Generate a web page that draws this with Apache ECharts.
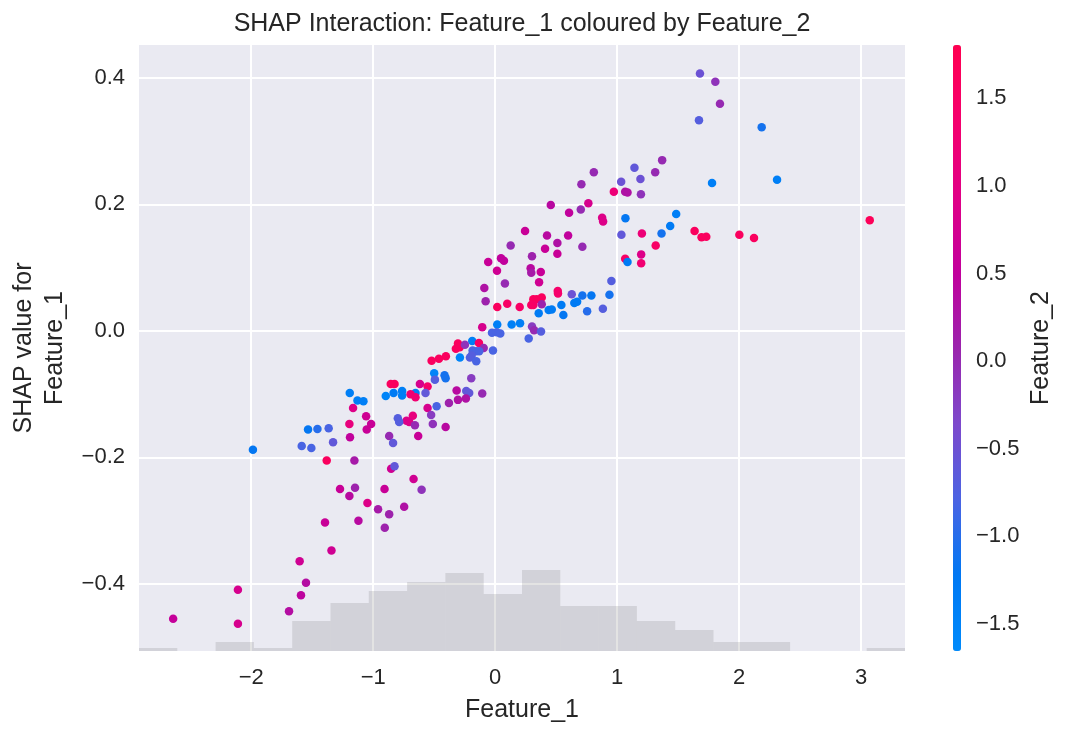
<!DOCTYPE html>
<html>
<head>
<meta charset="utf-8">
<title>SHAP Interaction</title>
<script src="https://cdn.jsdelivr.net/npm/echarts@6/dist/echarts.min.js"></script>
<style>
html, body { margin: 0; padding: 0; background: #fff; }
#main-chart { width: 1069px; height: 738px; }
</style>
</head>
<body>
<div id="main-chart"></div>
<script>
// values
var feature1 = [
    0.809, 0.707, 1.142, 1.033, 1.191, 0.973, 1.066, 1.085, 1.195, 0.456,
    0.764, 0.606, 0.702, 0.877, 0.885, 1.068, 0.245, 0.425, 0.598, 1.035,
    1.203, 1.679, 1.805, 1.843, 1.671, 2.185, 1.369, 1.312, 1.778, 2.311,
    1.484, 1.435, 1.364, 1.635, 1.692, 1.731, 2.002, 2.122, 3.071, 1.316,
    1.197, 1.197, 0.127, 0.409, 0.510, 0.510, 0.715, 1.066, 1.085, -0.057,
    0.048, 0.072, 0.302, 0.015, 0.291, 0.296, 0.374, 0.360, 0.080, -0.089,
    -0.078, 0.513, 0.515, 0.628, 0.715, 0.789, 0.953, 0.937, 0.883, 0.754,
    0.649, 0.672, 0.543, 0.559, 0.439, 0.464, 0.357, 0.313, 0.341, 0.382,
    0.296, 0.313, 0.382, 0.201, 0.099, 0.017, -0.106, 0.017, -0.026, 0.012,
    0.042, 0.135, 0.204, 0.302, 0.319, 0.376, 0.275, -0.018, -0.188, -0.133,
    -0.094, -0.305, -0.322, -0.291, -0.248, -0.185, -0.155, -0.131, -0.207, -0.193,
    -0.155, -0.289, -0.404, -0.461, -0.521, -0.500, -0.494, -0.415, -0.406, -0.196,
    -0.106, -0.316, -0.237, -0.213, -0.305, -0.240, -0.379, -0.480, -0.554, -0.525,
    -0.511, -0.406, -0.631, -0.675, -0.727, -0.705, -0.658, -0.798, -0.787, -0.617,
    -0.554, -0.571, -0.653, -0.694, -0.653, -0.763, -0.763, -0.833, -0.856, -0.825,
    -0.869, -0.897, -1.192, -1.129, -1.080, -1.165, -1.058, -1.017, -1.195, -1.053,
    -1.190, -1.534, -1.457, -1.365, -1.329, -0.837, -1.986, -1.586, -1.507, -1.381,
    -1.154, -0.853, -0.825, -1.272, -1.149, -1.195, -0.907, -1.047, -0.960, -0.869,
    -0.905, -1.121, -1.395, -1.342, -1.603, -1.551, -1.592, -1.690, -2.109, -2.109,
    -2.640, -0.669, -0.603, -0.746
];
var shapValues = [
    0.251, 0.232, 0.258, 0.236, 0.240, 0.220, 0.220, 0.219, 0.216, 0.199,
    0.202, 0.187, 0.192, 0.179, 0.173, 0.178, 0.158, 0.151, 0.151, 0.152,
    0.154, 0.407, 0.394, 0.359, 0.333, 0.322, 0.270, 0.251, 0.234, 0.239,
    0.185, 0.166, 0.154, 0.158, 0.148, 0.149, 0.152, 0.147, 0.175, 0.135,
    0.121, 0.107, 0.135, 0.130, 0.139, 0.122, 0.133, 0.114, 0.109, 0.109,
    0.115, 0.111, 0.118, 0.095, 0.099, 0.092, 0.093, 0.077, 0.075, 0.068,
    0.047, 0.063, 0.059, 0.058, 0.056, 0.056, 0.079, 0.057, 0.035, 0.031,
    0.044, 0.046, 0.041, 0.025, 0.033, 0.034, 0.028, 0.050, 0.050, 0.053,
    0.041, 0.041, 0.042, 0.038, 0.043, 0.038, 0.006, 0.010, -0.003, -0.002,
    -0.004, 0.010, 0.012, 0.007, 0.001, -0.001, -0.012, -0.031, -0.016, -0.019,
    -0.027, -0.020, -0.028, -0.026, -0.022, -0.031, -0.032, -0.032, -0.042, -0.039,
    -0.048, -0.042, -0.040, -0.044, -0.047, -0.067, -0.077, -0.070, -0.075, -0.075,
    -0.099, -0.094, -0.095, -0.098, -0.109, -0.107, -0.114, -0.119, -0.122, -0.133,
    -0.147, -0.152, -0.166, -0.134, -0.142, -0.144, -0.149, -0.138, -0.144, -0.084,
    -0.088, -0.098, -0.098, -0.100, -0.105, -0.095, -0.102, -0.098, -0.084, -0.084,
    -0.166, -0.103, -0.098, -0.110, -0.111, -0.122, -0.135, -0.147, -0.147, -0.156,
    -0.168, -0.156, -0.155, -0.154, -0.176, -0.177, -0.188, -0.182, -0.185, -0.205,
    -0.205, -0.218, -0.214, -0.250, -0.248, -0.261, -0.250, -0.272, -0.282, -0.290,
    -0.311, -0.300, -0.303, -0.347, -0.364, -0.398, -0.418, -0.443, -0.409, -0.463,
    -0.455, -0.234, -0.251, -0.278
];
var feature2 = [
    0.0, 0.0, -0.6, -0.5, -0.5, 1.2, 0.3, 0.3, -0.1, 0.4,
    0.8, 0.5, 0.0, 0.9, 0.9, -1.2, 0.6, 0.4, 0.5, -0.6,
    1.2, -0.5, -0.1, 0.0, -0.7, -1.1, 0.0, 0.0, -1.4, -1.4,
    -1.4, -1.3, -1.1, 1.6, 1.6, 1.6, 1.6, 1.6, 1.7, 1.5,
    0.9, 1.3, 0.0, 0.6, 0.3, 0.6, 0.0, 1.5, -1.3, 0.6,
    0.5, 0.5, 0.1, 0.7, 0.4, 0.2, 0.6, 0.7, 0.0, 0.3,
    0.1, 1.4, 1.4, -0.5, -1.1, -1.2, -0.7, -1.1, -0.7, -1.0,
    -1.3, -1.3, -1.3, -1.2, -1.3, -1.3, -1.3, 1.6, 1.6, 1.6,
    1.5, 1.5, 0.1, 1.5, 1.5, 1.6, 0.8, -1.4, -0.8, -0.8,
    -0.8, -1.4, -1.4, -0.2, 0.0, -0.7, -0.8, -0.8, -1.4, 1.5,
    0.0, 1.6, 1.6, 1.6, -0.1, -0.8, -0.8, -0.8, -0.7, -0.7,
    -0.8, -1.5, 1.6, 1.6, 1.6, -1.5, -0.7, -1.1, -1.1, -0.2,
    0.0, 0.4, -0.6, -0.6, 0.3, 0.3, 0.1, -0.8, 0.8, -0.2,
    -0.1, 0.4, 0.6, 1.1, 0.9, 0.9, 0.0, -0.7, -0.7, 0.8,
    1.4, -0.6, -1.4, 1.3, 1.3, -1.4, -1.4, -1.3, 1.6, 1.6,
    0.0, -1.5, -1.4, -1.4, -1.4, 0.9, 0.7, 0.6, 1.1, 0.6,
    0.5, -1.2, -1.0, -0.8, -0.6, -0.6, -1.2, -0.8, -0.8, 1.6,
    0.2, 0.7, -0.6, 0.6, 0.1, 0.4, 0.6, 0.9, 0.2, 0.1,
    0.1, 0.4, 0.6, 0.7, 0.7, 0.35, 0.45, 0.35, 0.8, 0.8,
    0.55, 0.7, -0.1, 0.3
];

// histogram of Feature_1 drawn under the points
var histCounts = [1, 0, 3, 1, 10, 16, 20, 23, 26, 19, 27, 15, 15, 10, 7, 3, 3, 0, 0, 1];
var histStart = -2.92;
var histWidth = 0.314;

var xTicks = [-2, -1, 0, 1, 2, 3];
var yTicks = [-0.4, -0.2, 0, 0.2, 0.4];
var colorTicks = [-1.5, -1, -0.5, 0, 0.5, 1, 1.5];

// shap red_blue map
var redBlue = ['#008afb', '#0078f3', '#4b63e3', '#7d49cc', '#9b24ad', '#c2009c', '#e00086', '#f5006d', '#ff0051'];

(function(){
    var myChart = echarts.init(document.getElementById('main-chart'));
    var ink = '#262626';
    var font = 'Liberation Sans, Arial, sans-serif';

    var points = feature1.map(function (x, i) {
        return [x, shapValues[i], feature2[i]];
    });
    var bins = histCounts.map(function (n, i) {
        return [histStart + i * histWidth, histStart + (i + 1) * histWidth, n];
    });

    function minus(s) {
        return s.replace('-', '\u2212');
    }

    option = {
        backgroundColor: '#fff',
        animation: false,
        textStyle: { fontFamily: font },
        title: {
            text: 'SHAP Interaction: Feature_1 coloured by Feature_2',
            left: 522,
            top: 12,
            textAlign: 'center',
            padding: 0,
            textStyle: { fontSize: 25, fontWeight: 'normal', color: ink, fontFamily: font }
        },
        grid: [
            { left: 139, top: 45, width: 766, height: 606, show: true, backgroundColor: '#eaeaf2', borderWidth: 0 },
            { left: 953, top: 45, width: 8, height: 606, show: false }
        ],
        xAxis: [
            {
                type: 'value',
                gridIndex: 0,
                min: -2.92,
                max: 3.36,
                name: 'Feature_1',
                nameLocation: 'middle',
                nameGap: 47,
                nameTextStyle: { fontSize: 25, color: ink },
                axisLine: { show: false },
                axisTick: { show: false, customValues: xTicks },
                axisLabel: {
                    customValues: xTicks,
                    fontSize: 22,
                    color: ink,
                    margin: 16,
                    formatter: function (v) { return minus(String(v)); }
                },
                splitLine: { show: true, lineStyle: { color: '#ffffff', width: 2 } }
            },
            { type: 'value', gridIndex: 1, show: false, min: 0, max: 1 }
        ],
        yAxis: [
            {
                type: 'value',
                gridIndex: 0,
                min: -0.506,
                max: 0.452,
                name: 'SHAP value for\nFeature_1',
                nameLocation: 'middle',
                nameRotate: 90,
                nameGap: 63,
                nameTextStyle: { fontSize: 25, color: ink, lineHeight: 31 },
                axisLine: { show: false },
                axisTick: { show: false, customValues: yTicks },
                axisLabel: {
                    customValues: yTicks,
                    fontSize: 22,
                    color: ink,
                    margin: 14,
                    formatter: function (v) { return minus(v.toFixed(1)); }
                },
                splitLine: { show: true, lineStyle: { color: '#ffffff', width: 2 } }
            },
            { type: 'value', gridIndex: 0, show: false, min: 0, max: 202 },
            {
                type: 'value',
                gridIndex: 1,
                position: 'right',
                min: -1.654,
                max: 1.805,
                name: 'Feature_2',
                nameLocation: 'middle',
                nameRotate: 90,
                nameGap: 68,
                nameTextStyle: { fontSize: 25, color: ink },
                axisLine: { show: false },
                axisTick: { show: false, customValues: colorTicks },
                axisLabel: {
                    customValues: colorTicks,
                    fontSize: 22,
                    color: ink,
                    margin: 15,
                    formatter: function (v) { return minus(v.toFixed(1)); }
                },
                splitLine: { show: false }
            }
        ],
        visualMap: {
            type: 'continuous',
            seriesIndex: 1,
            dimension: 2,
            min: -1.654,
            max: 1.805,
            calculable: false,
            hoverLink: false,
            orient: 'vertical',
            left: 953,
            top: 45,
            padding: 0,
            itemWidth: 8,
            itemHeight: 606,
            borderRadius: 0,
            text: null,
            inRange: { color: redBlue }
        },
        series: [
            {
                type: 'custom',
                xAxisIndex: 0,
                yAxisIndex: 1,
                z: 1,
                silent: true,
                data: bins,
                renderItem: function (params, api) {
                    var p0 = api.coord([api.value(0), 0]);
                    var p1 = api.coord([api.value(1), api.value(2)]);
                    return {
                        type: 'rect',
                        shape: { x: p0[0], y: p1[1], width: p1[0] - p0[0], height: p0[1] - p1[1] },
                        style: { fill: 'rgba(128,128,128,0.22)' }
                    };
                }
            },
            {
                name: 'Feature_1',
                type: 'scatter',
                xAxisIndex: 0,
                yAxisIndex: 0,
                z: 3,
                symbolSize: 8.5,
                itemStyle: { opacity: 1 },
                data: points
            }
        ]
    };

    myChart.setOption(option);
})();
</script>
</body>
</html>
